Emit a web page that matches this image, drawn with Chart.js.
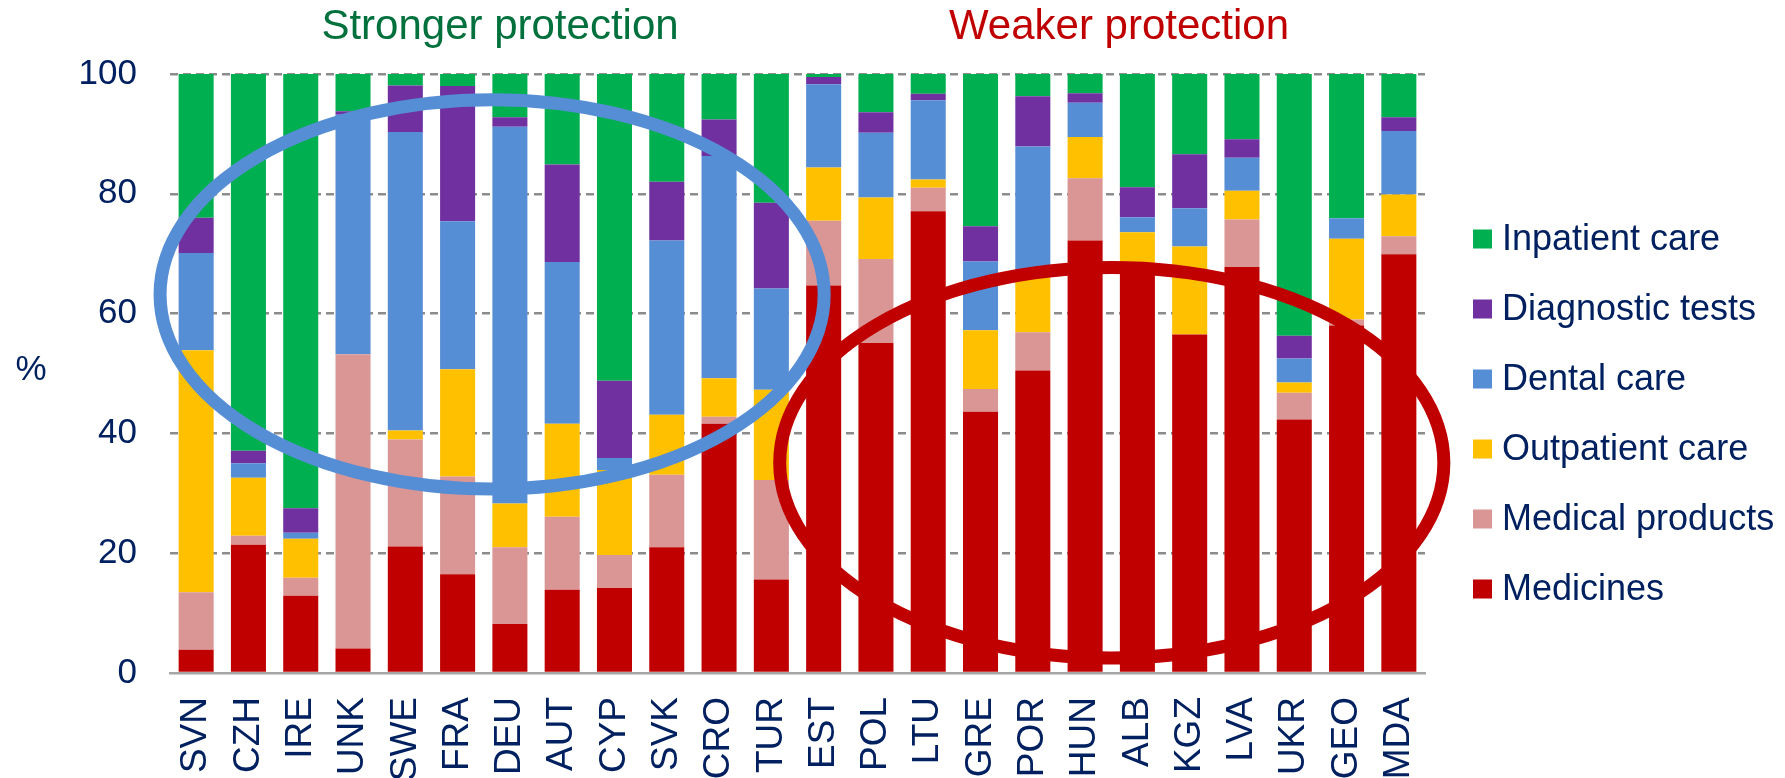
<!DOCTYPE html>
<html>
<head>
<meta charset="utf-8">
<style>
html, body { margin: 0; padding: 0; background: #fff; }
#wrap { width: 1785px; height: 778px; }
</style>
<script src="https://cdn.jsdelivr.net/npm/chart.js"></script>
</head>
<body>
<div id="wrap"><canvas id="grafico" width="1785" height="778"></canvas></div>
<script>
const countries = ['SVN','CZH','IRE','UNK','SWE','FRA','DEU','AUT','CYP','SVK','CRO','TUR','EST','POL','LTU','GRE','POR','HUN','ALB','KGZ','LVA','UKR','GEO','MDA']

// shares of out-of-pocket spending, %
const medicines       = [3.9, 21.4, 12.9, 4.1, 21.1, 16.5, 8.2, 13.9, 14.2, 21.0, 41.6, 15.6, 64.7, 55.1, 77.1, 43.6, 50.5, 72.2, 67.5, 56.5, 67.8, 42.3, 58.0, 69.9]
const medicalProducts = [9.6, 1.5, 3.0, 49.1, 17.9, 16.3, 12.8, 12.2, 5.5, 12.1, 1.2, 16.6, 10.8, 14.0, 3.9, 3.8, 6.4, 10.4, 0, 0, 7.9, 4.5, 1.0, 3.0]
const outpatientCare  = [40.4, 9.7, 6.5, 0, 1.5, 17.9, 7.3, 15.5, 14.2, 10.0, 6.4, 15.1, 8.9, 10.3, 1.4, 9.8, 10.1, 6.9, 6.1, 14.7, 4.8, 1.7, 13.5, 7.0]
const dentalCare      = [16.2, 2.4, 1.0, 40.0, 49.8, 24.7, 62.9, 27.0, 2.0, 29.1, 37.1, 16.9, 13.9, 10.8, 13.2, 11.5, 20.9, 5.7, 2.5, 6.4, 5.5, 4.0, 3.4, 10.6]
const diagnosticTests = [5.9, 2.1, 4.1, 0.6, 7.8, 22.6, 1.6, 16.3, 12.9, 9.8, 6.1, 14.3, 1.2, 3.4, 1.1, 5.9, 8.4, 1.6, 5.0, 9.0, 3.1, 3.8, 0, 2.3]
const inpatientCare   = [24.0, 62.9, 72.5, 6.2, 1.9, 2.0, 7.2, 15.1, 51.2, 18.0, 7.6, 21.5, 0.5, 6.4, 3.3, 25.4, 3.7, 3.2, 18.9, 13.4, 10.9, 43.7, 24.1, 7.2]

const yTicks = [0, 20, 40, 60, 80, 100]

const navy = '#002060'
const fontFamily = "'Liberation Sans', Arial, sans-serif"

// ellipses around the two groups, centre in (category index, %), radii in same units
const ellipses = [
    {cx: 5.66, cy: 63.2, rx: 6.35, ry: 32.5, color: '#558ED5'},
    {cx: 17.51, cy: 35.1, rx: 6.35, ry: 32.6, color: '#C00000'}
]

const series = [
    {label: 'Medicines', data: medicines, backgroundColor: '#C00000'},
    {label: 'Medical products', data: medicalProducts, backgroundColor: '#D99694'},
    {label: 'Outpatient care', data: outpatientCare, backgroundColor: '#FFC000'},
    {label: 'Dental care', data: dentalCare, backgroundColor: '#558ED5'},
    {label: 'Diagnostic tests', data: diagnosticTests, backgroundColor: '#7030A0'},
    {label: 'Inpatient care', data: inpatientCare, backgroundColor: '#00B050'}
]

const extras = {
    id: 'extras',
    afterDatasetsDraw(chart) {
        const {ctx, scales: {x, y}} = chart
        const step = x.getPixelForValue(1) - x.getPixelForValue(0)
        const unit = y.getPixelForValue(0) - y.getPixelForValue(1)
        ellipses.forEach(e => {
            ctx.save()
            ctx.beginPath()
            ctx.ellipse(x.getPixelForValue(e.cx), y.getPixelForValue(e.cy), e.rx * step, e.ry * unit, 0, 0, Math.PI * 2)
            ctx.lineWidth = 13
            ctx.strokeStyle = e.color
            ctx.stroke()
            ctx.restore()
        })
    },
    afterDraw(chart) {
        const {ctx, chartArea} = chart
        ctx.save()
        ctx.textAlign = 'center'
        ctx.textBaseline = 'alphabetic'
        ctx.font = '42px ' + fontFamily
        ctx.fillStyle = '#00703C'
        ctx.fillText('Stronger protection', 500, 39)
        ctx.fillStyle = '#C00000'
        ctx.fillText('Weaker protection', 1119, 39)

        ctx.font = '35px ' + fontFamily
        ctx.fillStyle = navy
        ctx.textBaseline = 'middle'
        ctx.fillText('%', 31, 370)

        // legend, top item = last series
        ctx.textAlign = 'left'
        ctx.font = '36px ' + fontFamily
        const items = chart.data.datasets.slice().reverse()
        const left = chartArea.right + 48
        items.forEach((ds, i) => {
            const cy = chartArea.top + 165 + i * 70
            ctx.fillStyle = ds.backgroundColor
            ctx.fillRect(left, cy - 9.5, 19, 19)
            ctx.fillStyle = navy
            ctx.fillText(ds.label, left + 29, cy + 1)
        })
        ctx.restore()
    }
}

Chart.defaults.font.family = fontFamily

new Chart(document.getElementById('grafico'), {
    type: 'bar',
    data: {
        labels: countries,
        datasets: series.map(s => ({...s, borderWidth: 0, barPercentage: 0.67, categoryPercentage: 1}))
    },
    options: {
        responsive: false,
        animation: false,
        layout: {padding: {top: 74, right: 360, left: 0, bottom: 0}},
        plugins: {
            legend: {display: false},
            tooltip: {enabled: false}
        },
        scales: {
            x: {
                stacked: true,
                grid: {display: false, drawTicks: false},
                border: {display: true, color: '#A6A6A6', width: 2.5},
                ticks: {
                    color: navy,
                    font: {size: 37},
                    minRotation: 90,
                    maxRotation: 90,
                    padding: 24,
                    autoSkip: false
                },
                afterFit: s => { s.height = 105 }
            },
            y: {
                stacked: true,
                min: 0,
                max: 100,
                afterBuildTicks: s => { s.ticks = yTicks.map(v => ({value: v})) },
                grid: {
                    color: ctx => ctx.tick && ctx.tick.value === 0 ? 'rgba(0,0,0,0)' : '#8C8C8C',
                    lineWidth: 2.5,
                    drawTicks: false
                },
                border: {display: false, dash: [8, 5]},
                ticks: {
                    color: navy,
                    font: {size: 35},
                    padding: 33
                },
                afterFit: s => { s.width = 170 }
            }
        }
    },
    plugins: [extras]
})
</script>
</body>
</html>
